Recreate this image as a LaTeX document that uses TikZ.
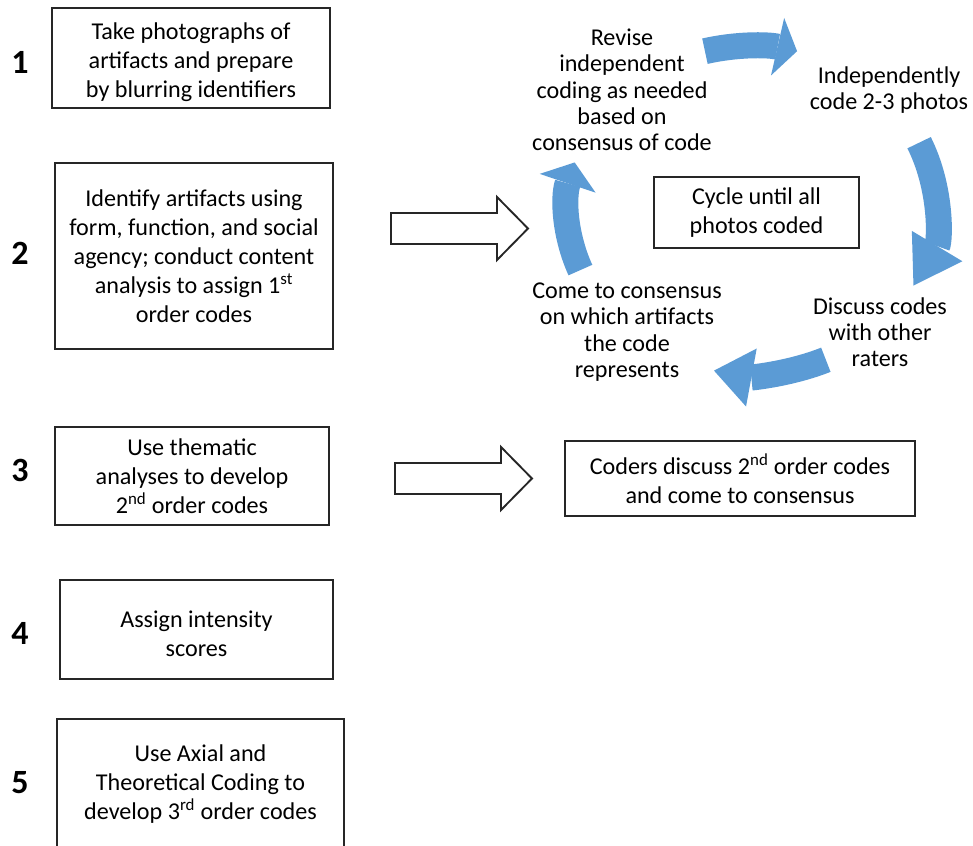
\documentclass[tikz,border=0pt]{standalone}
\usepackage{fontspec}
\setmainfont{Carlito}
\usetikzlibrary{arrows.meta}
\definecolor{cycblue}{RGB}{91,155,213}

\begin{document}
\begin{tikzpicture}[
        x=0.3mm, y=-0.3mm,
        stepbox/.style={draw=black!85, line width=1.6pt, align=center, inner sep=0pt, font=\fontsize{20.6}{24.75}\selectfont},
        stepnum/.style={font=\fontsize{29}{35}\selectfont\bfseries},
        cycletext/.style={align=center, font=\fontsize{20.6}{22.4}\selectfont},
        hollow/.style={draw=black!85, line width=1.6pt, fill=white},
        cycarrow/.style={draw=cycblue, line width=7.8mm, -{Triangle[width=17.7mm, length=#1, line width=0pt 0 0]}}
    ]
    \useasboundingbox (0,0) rectangle (973,846);

    % Left column - numbered steps
    \node[stepnum] (n1) at (20,62) {1};
    \node[stepnum] (n2) at (20,253) {2};
    \node[stepnum] (n3) at (20,470) {3};
    \node[stepnum] (n4) at (20,633) {4};
    \node[stepnum] (n5) at (20,783) {5};

    \node[stepbox, minimum width=83.4mm, minimum height=30mm] (s1) at (191,58) {\rule{0pt}{22pt}Take photographs of\\artifacts and prepare\\by blurring identifiers};
    \node[stepbox, minimum width=83.4mm, minimum height=55.8mm] (s2) at (194,256) {Identify artifacts using\\form, function, and social\\agency; conduct content\\analysis to assign 1\textsuperscript{st}\\order codes};
    \node[stepbox, minimum width=82.2mm, minimum height=29.4mm] (s3) at (192,476) {Use thematic\\analyses to develop\\2\textsuperscript{nd} order codes};
    \node[stepbox, minimum width=81.9mm, minimum height=29.7mm] (s4) at (196.5,629.5) {\rule{0pt}{21pt}Assign intensity\\scores};
    \node[stepbox, minimum width=86.1mm, minimum height=39mm] (s5) at (200.5,784) {Use Axial and\\Theoretical Coding to\\develop 3\textsuperscript{rd} order codes};

    % Hollow arrows to the right
    \coordinate (arrA) at (391,228.5);
    \coordinate (arrB) at (395,478.5);
    \draw[hollow] (arrA) ++(0,-15.5) -- ++(106,0) -- ++(0,-16) -- ++(31,31.5) -- ++(-31,31.5) -- ++(0,-16) -- ++(-106,0) -- cycle;
    \draw[hollow] (arrB) ++(0,-15.5) -- ++(106,0) -- ++(0,-16) -- ++(31,31.5) -- ++(-31,31.5) -- ++(0,-16) -- ++(-106,0) -- cycle;

    % Coding cycle
    \node[stepbox, minimum width=61.5mm, minimum height=21.3mm] (loop) at (756.5,212.5) {Cycle until all\\photos coded};
    \node[cycletext] (revise) at (622,90) {Revise\\independent\\coding as needed\\based on\\consensus of code};
    \node[cycletext] (indep) at (889,90) {Independently\\code 2-3 photos};
    \node[cycletext] (discuss) at (880,332) {Discuss codes\\with other\\raters};
    \node[cycletext] (agree) at (627,332) {Come to consensus\\on which artifacts\\the code\\represents};

    \coordinate (cyc) at (751,209);
    \draw[cycarrow=6mm] (cyc) ++(104.5:55.2mm and 48.9mm) arc[start angle=104.5, end angle=75.5, x radius=55.2mm, y radius=48.9mm];
    \draw[cycarrow=13.8mm] (cyc) ++(24:55.2mm and 48.9mm) arc[start angle=24, end angle=-28, x radius=55.2mm, y radius=48.9mm];
    \draw[cycarrow=11.4mm] (cyc) ++(-66:55.2mm and 49.5mm) arc[start angle=-66, end angle=-101.6, x radius=55.2mm, y radius=49.5mm];
    \draw[cycarrow=6.6mm] (cyc) ++(-158:55.2mm and 48.9mm) arc[start angle=-158, end angle=-196.6, x radius=55.2mm, y radius=48.9mm];

    \node[stepbox, minimum width=105mm, minimum height=22.5mm] (coders) at (740,478.5) {Coders discuss 2\textsuperscript{nd} order codes\\and come to consensus};
\end{tikzpicture}
\end{document}
